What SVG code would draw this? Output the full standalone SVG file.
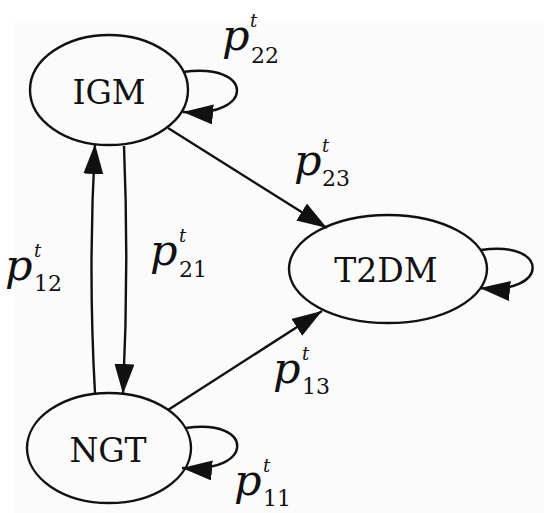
<svg xmlns="http://www.w3.org/2000/svg" width="544" height="513" viewBox="0 0 544 513">
<style>
.node{fill:none;stroke:#111;stroke-width:2.4}
.lbl{font-size:33px;fill:#111;text-anchor:middle}
.edge{fill:none;stroke:#111;stroke-width:2.4}
.pl{fill:#111}
.p{font-style:italic;font-size:43px}
.sub{font-style:normal;font-size:22px}
.sup{font-style:italic;font-size:18px}
</style>
<defs>
<marker id="ah" markerUnits="userSpaceOnUse" markerWidth="31" markerHeight="21" refX="30" refY="10" orient="auto">
<path d="M0,0 L30,10 L0,20 z" fill="#111"/>
</marker>
</defs>
<rect x="0" y="0" width="544" height="513" fill="#ffffff"/>
<rect x="14" y="21" width="530" height="492" fill="#fbfbfb"/>
<g id="connectors">
<path class="edge" marker-end="url(#ah)" d="M183,72 C255,62 255,118 183,112"/>
<path class="edge" marker-end="url(#ah)" d="M481,250 C550,240 550,295 480,288"/>
<path class="edge" marker-end="url(#ah)" d="M186,428 C255,418 255,474 182,468"/>
<path class="edge" marker-end="url(#ah)" d="M124,146 Q129,270 123,394"/>
<path class="edge" marker-end="url(#ah)" d="M95,393 Q88,270 95,144"/>
<path class="edge" marker-end="url(#ah)" d="M168,128 L327,228"/>
<path class="edge" marker-end="url(#ah)" d="M168,410 L322,311"/>
</g>
<g font-family="DejaVu Serif, serif">
<g id="IGM">
<ellipse class="node" cx="109" cy="90" rx="79" ry="55"/>
<text class="lbl" x="109" y="104">IGM</text>
</g>
<g id="T2DM">
<ellipse class="node" cx="388" cy="269" rx="99" ry="54"/>
<text class="lbl" x="386" y="282">T2DM</text>
</g>
<g id="NGT">
<ellipse class="node" cx="109" cy="448" rx="82" ry="55"/>
<text class="lbl" x="108" y="462">NGT</text>
</g>
</g>
<g id="labels" font-family="DejaVu Serif, serif">
<text class="pl"><tspan class="p" x="222" y="50">p</tspan><tspan class="sup" x="250" y="27">t</tspan><tspan class="sub" x="251" y="63">22</tspan></text>
<text class="pl"><tspan class="p" x="294" y="175">p</tspan><tspan class="sup" x="322" y="152">t</tspan><tspan class="sub" x="322" y="186">23</tspan></text>
<text class="pl"><tspan class="p" x="150" y="265">p</tspan><tspan class="sup" x="179" y="242">t</tspan><tspan class="sub" x="179" y="277">21</tspan></text>
<text class="pl"><tspan class="p" x="5" y="280">p</tspan><tspan class="sup" x="34" y="257">t</tspan><tspan class="sub" x="34" y="291">12</tspan></text>
<text class="pl"><tspan class="p" x="273" y="383">p</tspan><tspan class="sup" x="302" y="360">t</tspan><tspan class="sub" x="302" y="394">13</tspan></text>
<text class="pl"><tspan class="p" x="234" y="495">p</tspan><tspan class="sup" x="263" y="472">t</tspan><tspan class="sub" x="263" y="506">11</tspan></text>
</g>
</svg>
